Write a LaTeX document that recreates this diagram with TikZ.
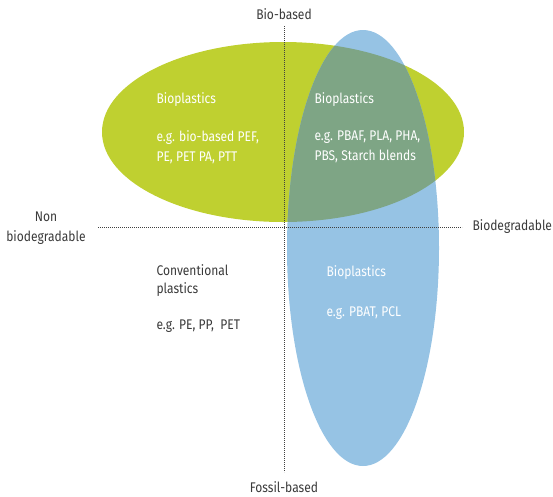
\documentclass[tikz,border=0pt]{standalone}
\usepackage{fontspec}
\setmainfont[FakeStretch=0.86]{Fira Sans}
\usetikzlibrary{positioning}

\definecolor{biogreen}{HTML}{BFD030}
\definecolor{fossilblue}{HTML}{96C3E4}
\definecolor{overlapgreen}{HTML}{7EA585}
\definecolor{labelgray}{HTML}{3A3A3A}

\tikzset{
	axisline/.style={draw=black!75, line width=0.75pt, dash pattern=on 0.8pt off 1.2pt},
	axislabel/.style={text=labelgray, font=\fontsize{14}{20}\selectfont, align=center},
	areatext/.style={text=white, anchor=west, align=left, font=\fontsize{14}{20}\selectfont},
	darktext/.style={areatext, text=labelgray, font=\fontsize{14}{18}\selectfont},
}

\begin{document}
\begin{tikzpicture}[x=1pt, y=-1pt]
				\useasboundingbox (0, 0) rectangle (553, 496);
				
				% the two regions
				\fill[biogreen] (283, 132) ellipse [x radius=181, y radius=90];
				\fill[fossilblue] (363, 248) ellipse [x radius=76, y radius=218];
				\begin{scope}
					\clip (283, 132) ellipse [x radius=181, y radius=90];
					\fill[overlapgreen] (363, 248) ellipse [x radius=76, y radius=218];
				\end{scope}
				
				% axis labels
				\node[axislabel] (biobased) at (284, 14) {Bio-based};
				\node[axislabel] (fossilbased) at (284, 487) {Fossil-based};
				\node[axislabel] (nonbio) at (46, 228) {Non\\biodegradable};
				\node[axislabel, anchor=west] (biodeg) at (469, 227) {Biodegradable};
				
				% dotted axes
				\coordinate (top) at (284, 26);
				\coordinate (bottom) at (284, 472);
				\coordinate (left) at (98, 227);
				\coordinate (right) at (462, 227);
				\draw[axisline] (top) -- (bottom);
				\draw[axisline] (left) -- (right);
				
				% texts in the quadrants
				\node[areatext] (biotitle) at (153, 100) {Bioplastics};
				\node[areatext] (bioex) at (153, 147) {e.g. bio-based PEF,\\PE, PET PA, PTT};
				\node[areatext] (bothtitle) at (311, 100) {Bioplastics};
				\node[areatext] (bothex) at (311, 147) {e.g. PBAF, PLA, PHA,\\PBS, Starch blends};
				\node[darktext] (convtitle) at (153, 281) {Conventional\\plastics};
				\node[darktext] (convex) at (153, 326) {e.g. PE, PP,\ \ PET};
				\node[areatext] (fossiltitle) at (323, 273) {Bioplastics};
				\node[areatext] (fossilex) at (323, 313) {e.g. PBAT, PCL};
			\end{tikzpicture}
\end{document}
